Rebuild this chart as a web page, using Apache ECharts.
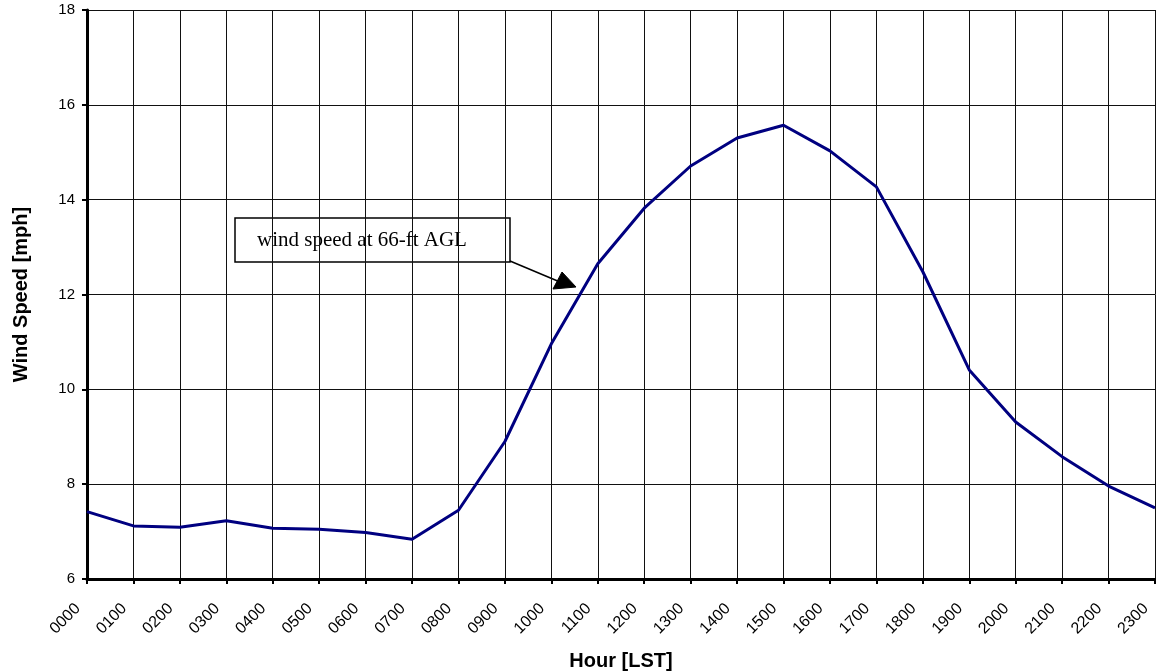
<!DOCTYPE html>
<html>
<head>
<meta charset="utf-8">
<script src="https://cdn.jsdelivr.net/npm/echarts@6/dist/echarts.min.js"></script>
<style>
html,body{margin:0;padding:0;background:#fff;overflow:hidden;width:1156px;height:671px;}
#chart{width:1156px;height:671px;overflow:hidden;}
</style>
</head>
<body>
<div id="chart"></div>
<script>
var hours = ['0000','0100','0200','0300','0400','0500','0600','0700','0800','0900','1000','1100',
             '1200','1300','1400','1500','1600','1700','1800','1900','2000','2100','2200','2300'];
var windSpeed = [7.42, 7.12, 7.09, 7.23, 7.07, 7.05, 6.98, 6.84, 7.45, 8.90, 10.96, 12.65,
                 13.82, 14.71, 15.30, 15.57, 15.03, 14.27, 12.48, 10.41, 9.31, 8.58, 7.96, 7.50];
var yTicks = [6, 8, 10, 12, 14, 16, 18];
var annotationText = 'wind speed at 66-ft AGL';
var xTitle = 'Hour [LST]';
var yTitle = 'Wind Speed [mph]';

var chart = echarts.init(document.getElementById('chart'), null, {renderer: 'canvas', width: 1156, height: 671});
var option = {
  animation: false,
  backgroundColor: '#ffffff',
  grid: {left: 87, right: 1, top: 10, bottom: 92, containLabel: false, outerBoundsMode: 'none'},
  xAxis: {
    type: 'category',
    data: hours,
    boundaryGap: false,
    name: xTitle,
    nameLocation: 'middle',
    nameGap: 72,
    nameTextStyle: {fontFamily: 'Liberation Sans', fontWeight: 'bold', fontSize: 20, color: '#000'},
    axisLine: {show: true, lineStyle: {color: '#000', width: 3}},
    axisTick: {show: true, inside: false, length: 5, interval: 0, lineStyle: {color: '#000', width: 2}},
    axisLabel: {interval: 0, rotate: 45, margin: 18, padding: [0, 13, 0, 0],
                fontFamily: 'Liberation Sans', fontSize: 16, color: '#000'},
    splitLine: {show: true, interval: 0, lineStyle: {color: '#111', width: 1}}
  },
  yAxis: {
    type: 'value',
    min: yTicks[0],
    max: yTicks[yTicks.length - 1],
    interval: 2,
    name: yTitle,
    nameLocation: 'middle',
    nameGap: 56,
    nameTextStyle: {fontFamily: 'Liberation Sans', fontWeight: 'bold', fontSize: 20, color: '#000'},
    axisLine: {show: true, lineStyle: {color: '#000', width: 3}},
    axisTick: {show: true, inside: false, length: 5, lineStyle: {color: '#000', width: 2}},
    axisLabel: {margin: 12, fontFamily: 'Liberation Sans', fontSize: 15, color: '#000'},
    splitLine: {show: true, lineStyle: {color: '#111', width: 1}}
  },
  series: [{
    type: 'line',
    data: windSpeed,
    smooth: false,
    symbol: 'none',
    lineStyle: {color: '#000080', width: 3},
    z: 5
  }],
  graphic: [
    {
      type: 'group',
      z: 100,
      children: [
        {type: 'rect', shape: {x: 235, y: 218, width: 275, height: 44},
         style: {fill: '#fff', stroke: '#000', lineWidth: 1.5}},
        {type: 'text', x: 257, y: 240,
         style: {text: annotationText, font: '21px "Liberation Serif"', fill: '#000',
                 textAlign: 'left', textVerticalAlign: 'middle'}},
        {type: 'line', shape: {x1: 510, y1: 261, x2: 560, y2: 282},
         style: {stroke: '#000', lineWidth: 1.5}},
        {type: 'polygon', shape: {points: [[553, 289], [562, 272], [576, 287]]},
         style: {fill: '#000', stroke: '#000', lineWidth: 1}}
      ]
    }
  ]
};
chart.setOption(option);
</script>
</body>
</html>
